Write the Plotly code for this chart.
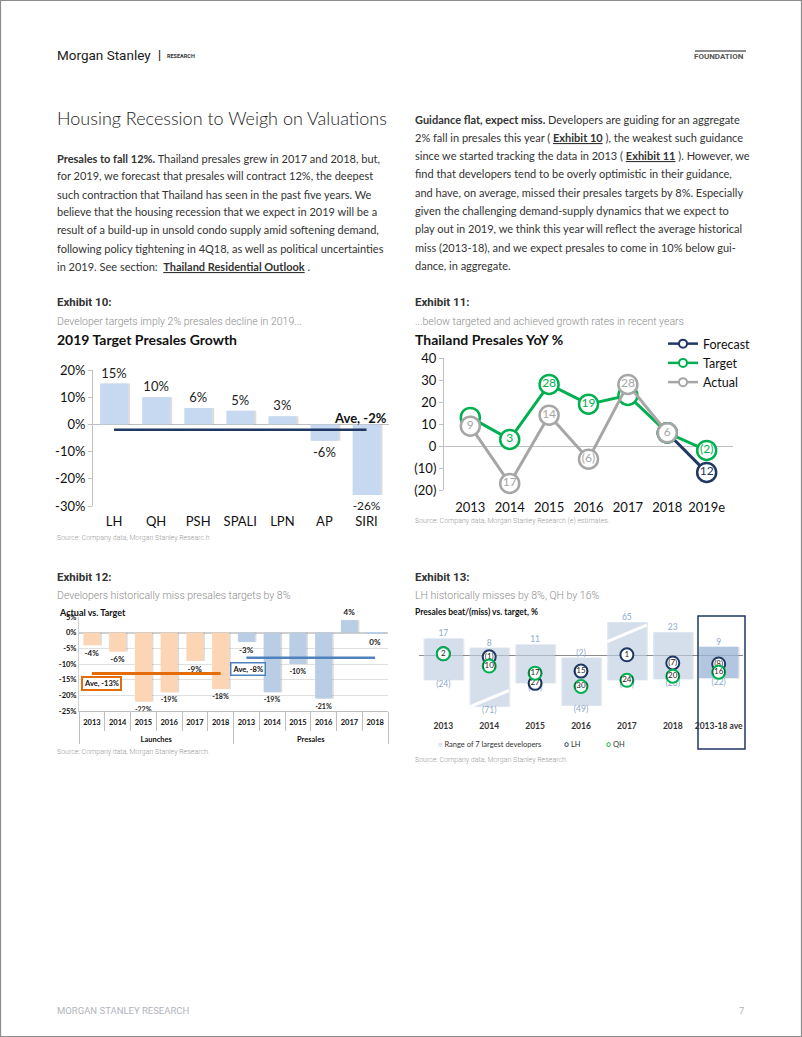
import plotly.graph_objects as go
import numpy as np

# ------------------------------------------------------------------ data
ex10_devs = ["LH", "QH", "PSH", "SPALI", "LPN", "AP", "SIRI"]
ex10_growth = [15, 10, 6, 5, 3, -6, -26]
ex10_avg = -2
ex10_yticks = [20, 10, 0, -10, -20, -30]

ex11_years = ["2013", "2014", "2015", "2016", "2017", "2018", "2019e"]
ex11_forecast = [None, None, None, None, None, 6, -12]
ex11_forecast_lbl = ["", "", "", "", "", "", "12"]
ex11_target = [13, 3, 28, 19, 23, 6, -2]
ex11_target_lbl = ["", "3", "28", "19", "", "", "(2)"]
ex11_actual = [9, -17, 14, -6, 28, 6, None]
ex11_actual_lbl = ["9", "17", "14", "(6)", "28", "6", ""]
ex11_yticks = [40, 30, 20, 10, 0, -10, -20]
ex11_yticktext = ["40", "30", "20", "10", "0", "(10)", "(20)"]

ex12_groups = ["Launches", "Presales"]
ex12_years = ["2013", "2014", "2015", "2016", "2017", "2018"]
ex12_launches = [-4, -6, -22, -19, -9, -18]
ex12_presales = [-3, -19, -10, -21, 4, -0.4]
ex12_launch_avg = -13
ex12_presale_avg = -8
ex12_yticks = [5, 0, -5, -10, -15, -20, -25]

ex13_cats = ["2013", "2014", "2015", "2016", "2017", "2018", "2013-18 ave"]
ex13_max = [17, 8, 11, -2, 65, 23, 9]
ex13_min = [-24, -71, -27, -49, -24, -23, -22]
ex13_lh = [2, -1, -27, -15, 1, -7, -8]
ex13_qh = [2, -10, -17, -30, -24, -20, -16]
ex13_break = (-50, 33)   # axis break limits of the range boxes

left_lines = [
    "<b>Presales to fall 12%.</b> Thailand presales grew in 2017 and 2018, but,",
    "for 2019, we forecast that presales will contract 12%, the deepest",
    "such contraction that Thailand has seen in the past five years. We",
    "believe that the housing recession that we expect in 2019 will be a",
    "result of a build-up in unsold condo supply amid softening demand,",
    "following policy tightening in 4Q18, as well as political uncertainties",
    "in 2019. See section:  <b><span style='text-decoration:underline'>Thailand Residential Outlook</span></b> .",
]
right_lines = [
    "<b>Guidance flat, expect miss.</b> Developers are guiding for an aggregate",
    "2% fall in presales this year ( <b><span style='text-decoration:underline'>Exhibit 10</span></b> ), the weakest such guidance",
    "since we started tracking the data in 2013 ( <b><span style='text-decoration:underline'>Exhibit 11</span></b> ). However, we",
    "find that developers tend to be overly optimistic in their guidance,",
    "and have, on average, missed their presales targets by 8%. Especially",
    "given the challenging demand-supply dynamics that we expect to",
    "play out in 2019, we think this year will reflect the average historical",
    "miss (2013-18), and we expect presales to come in 10% below gui-",
    "dance, in aggregate.",
]

# ------------------------------------------------------------------ helpers
W, H = 802, 1037
def X(px): return px / W
def Y(py): return 1 - py / H

NAVY = "#1f3864"
GREEN = "#00b050"
GREY = "#a6a6a6"
ann = []
def T(text, px, py, size=11, color="#333333", family="Lato", weight=None,
      xanchor="left", yanchor="middle", **kw):
    f = dict(size=size, color=color, family=family)
    if weight is not None:
        f["weight"] = weight
    d = dict(text=text, x=X(px), y=Y(py), xref="paper", yref="paper",
             showarrow=False, xanchor=xanchor, yanchor=yanchor, font=f)
    d.update(kw)
    ann.append(d)

def paren(v):
    return str(v) if v >= 0 else "(%d)" % (-v)

def pct(v):
    return "%d%%" % round(v)

def grp_label(g):
    # extra blank line puts the group label one row lower, as in the reference
    return "<br>" + g

fig = go.Figure()

# ------------------------------------------------------------------ Exhibit 10
fig.add_trace(go.Bar(x=ex10_devs, y=ex10_growth, width=0.66, offset=-0.28,
                     marker=dict(color="rgba(80,80,80,0.20)", line_width=0),
                     xaxis="x", yaxis="y", showlegend=False, hoverinfo="skip"))
fig.add_trace(go.Bar(x=ex10_devs, y=ex10_growth, width=0.66, offset=-0.33,
                     marker=dict(color="#c6d9f1", line_width=0),
                     text=[pct(v) for v in ex10_growth], textposition="outside",
                     textfont=dict(family="Lato", size=13, color="#222222"),
                     cliponaxis=False, xaxis="x", yaxis="y", showlegend=False))
fig.add_trace(go.Scatter(x=[ex10_devs[0], ex10_devs[-1]], y=[ex10_avg, ex10_avg],
                         mode="lines", line=dict(color=NAVY, width=2.5),
                         xaxis="x", yaxis="y", showlegend=False))

# ------------------------------------------------------------------ Exhibit 11
def line_trace(y, lbl, color):
    return go.Scatter(x=ex11_years, y=y, mode="lines+markers+text", text=lbl,
                      textposition="middle center",
                      textfont=dict(family="Lato", size=12, color=color),
                      line=dict(color=color, width=3),
                      marker=dict(size=19, color="white", line=dict(color=color, width=2.5)),
                      cliponaxis=False, xaxis="x2", yaxis="y2", showlegend=False)
fig.add_trace(line_trace(ex11_forecast, ex11_forecast_lbl, NAVY))
fig.add_trace(line_trace(ex11_target, ex11_target_lbl, GREEN))
fig.add_trace(line_trace(ex11_actual, ex11_actual_lbl, GREY))
for name, color in [("Forecast", NAVY), ("Target", GREEN), ("Actual", GREY)]:
    fig.add_trace(go.Scatter(x=[None], y=[None], mode="lines+markers", name=name,
                             line=dict(color=color, width=2.5),
                             marker=dict(size=8, color="white", line=dict(color=color, width=2)),
                             xaxis="x2", yaxis="y2", showlegend=True, legend="legend"))

# ------------------------------------------------------------------ Exhibit 12
ORANGE_BAR = "#fcd5b5"
BLUE_BAR = "#b9cde5"
for grp, vals, col in [(ex12_groups[0], ex12_launches, ORANGE_BAR),
                       (ex12_groups[1], ex12_presales, BLUE_BAR)]:
    xx = [[grp_label(grp)] * len(ex12_years), ex12_years]
    fig.add_trace(go.Bar(x=xx, y=vals, width=0.66, offset=-0.27,
                         marker=dict(color="rgba(80,80,80,0.20)", line_width=0),
                         xaxis="x3", yaxis="y3", showlegend=False, hoverinfo="skip"))
    fig.add_trace(go.Bar(x=xx, y=vals, width=0.66, offset=-0.33,
                         marker=dict(color=col, line_width=0),
                         text=[pct(v) for v in vals], textposition="outside",
                         textfont=dict(family="Lato", size=8, color="#222222", weight="bold"),
                         cliponaxis=False, xaxis="x3", yaxis="y3", showlegend=False))
for grp, avg, col, lw in [(ex12_groups[0], ex12_launch_avg, "#e46c0a", 3),
                          (ex12_groups[1], ex12_presale_avg, "#4f81bd", 2.5)]:
    fig.add_trace(go.Scatter(x=[[grp_label(grp)] * 2, [ex12_years[0], ex12_years[-1]]],
                             y=[avg, avg], mode="lines", line=dict(color=col, width=lw),
                             xaxis="x3", yaxis="y3", showlegend=False))

# ------------------------------------------------------------------ Exhibit 13
lo = np.clip(ex13_min, *ex13_break)
hi = np.clip(ex13_max, *ex13_break)
box_cols = ["rgba(200,216,236,0.62)"] * 6 + ["rgba(160,186,220,0.75)"]
fig.add_trace(go.Bar(x=ex13_cats, y=hi - lo, base=lo, width=0.86, offset=-0.40,
                     marker=dict(color="rgba(90,90,90,0.13)", line_width=0),
                     xaxis="x4", yaxis="y4", showlegend=False, hoverinfo="skip"))
fig.add_trace(go.Bar(x=ex13_cats, y=hi - lo, base=lo, width=0.86, offset=-0.43,
                     marker=dict(color=box_cols, line_width=0),
                     xaxis="x4", yaxis="y4", showlegend=False))
fig.add_trace(go.Scatter(x=ex13_cats, y=hi, mode="text", text=[paren(v) for v in ex13_max],
                         textposition="top center",
                         textfont=dict(family="Lato", size=8.5, color="#8eaad0"),
                         cliponaxis=False, xaxis="x4", yaxis="y4", showlegend=False))
fig.add_trace(go.Scatter(x=ex13_cats, y=lo, mode="text", text=[paren(v) for v in ex13_min],
                         textposition="bottom center",
                         textfont=dict(family="Lato", size=8.5, color="#8eaad0"),
                         cliponaxis=False, xaxis="x4", yaxis="y4", showlegend=False))
for vals, color in [(ex13_lh, NAVY), (ex13_qh, GREEN)]:
    fig.add_trace(go.Scatter(x=ex13_cats, y=vals, mode="markers+text",
                             text=[paren(v) for v in vals], textposition="middle center",
                             textfont=dict(family="Lato", size=8, color="#222222"),
                             marker=dict(size=13, color="white", line=dict(color=color, width=2)),
                             cliponaxis=False, xaxis="x4", yaxis="y4", showlegend=False))

# ------------------------------------------------------------------ shapes
shapes = []
shapes.append(dict(type="rect", xref="paper", yref="paper", x0=X(0.5), x1=X(801.5),
                   y0=Y(1036.5), y1=Y(0.5), line=dict(color="#8c8c8c", width=1.2)))
shapes.append(dict(type="line", xref="paper", yref="paper", x0=X(695), x1=X(746),
                   y0=Y(51), y1=Y(51), line=dict(color="#666666", width=1.5)))
# break marks on range boxes
i14 = ex13_cats.index("2014")
i17 = ex13_cats.index("2017")
shapes.append(dict(type="line", xref="x4", yref="y4", x0=i14 - 0.43, x1=i14 + 0.43,
                   y0=ex13_break[0], y1=ex13_break[0] + 16, line=dict(color="white", width=3)))
shapes.append(dict(type="line", xref="x4", yref="y4", x0=i17 - 0.43, x1=i17 + 0.43,
                   y0=ex13_break[1] - 19, y1=ex13_break[1] - 3, line=dict(color="white", width=3)))
shapes.append(dict(type="rect", xref="paper", yref="paper", x0=X(698), x1=X(745),
                   y0=Y(749), y1=Y(616), line=dict(color=NAVY, width=1.5)))

# ------------------------------------------------------------------ text
T("Morgan Stanley", 55, 55, size=13.5, color="#1a1a1a", family="Roboto")
T("|", 156, 55, size=12, color="#1a1a1a", family="Roboto", weight="bold")
T("RESEARCH", 165, 56, size=5.5, color="#333333", family="Roboto", weight="bold")
T("FOUNDATION", 746, 57, size=8, color="#555555", family="Roboto", weight="bold",
  xanchor="right")

T("Housing Recession to Weigh on Valuations", 55, 118, size=18, color="#222222",
  family="Lato", weight=300)
for i, line in enumerate(left_lines):
    T(line, 55, 158 + 18 * i, size=11, color="#333333", family="Lato")
for i, line in enumerate(right_lines):
    T(line, 413, 119 + 18.3 * i, size=11, color="#333333", family="Lato")

# exhibit 10
T("Exhibit 10:", 55, 302, size=11.5, color="#333333", family="Roboto", weight="bold")
T("Developer targets imply 2% presales decline in 2019...", 55, 321, size=10.5,
  color="#8c8c8c", family="Roboto", weight=300)
T("2019 Target Presales Growth", 55, 339, size=14, color="#111111", family="Lato",
  weight="bold")
ann.append(dict(text="Ave, %d%%" % ex10_avg, x=ex10_devs[-1], y=ex10_avg, xref="x", yref="y",
                showarrow=False, xanchor="center", yanchor="bottom", xshift=-6, yshift=2,
                font=dict(family="Lato", size=13, color="#111111", weight="bold")))
T("Source: Company data, Morgan Stanley Researc.h", 55, 538, size=7, color="#999999",
  family="Roboto", weight=300)

# exhibit 11
T("Exhibit 11:", 413, 302, size=11.5, color="#333333", family="Roboto", weight="bold")
T("...below targeted and achieved growth rates in recent years", 413, 321, size=10.5,
  color="#8c8c8c", family="Roboto", weight=300)
T("Thailand Presales YoY %", 413, 340, size=14, color="#111111", family="Lato",
  weight="bold")
T("Source: Company data, Morgan Stanley Research (e) estimates.", 413, 521, size=7,
  color="#999999", family="Roboto", weight=300)

# exhibit 12
T("Exhibit 12:", 55, 577, size=11.5, color="#333333", family="Roboto", weight="bold")
T("Developers historically miss presales targets by 8%", 55, 595, size=10.5,
  color="#8c8c8c", family="Roboto", weight=300)
T("Actual vs. Target", 57, 612, size=9, color="#111111", family="Lato", weight="bold")
T("Ave, %d%%" % ex12_launch_avg, 101, 683, size=7.5, color="#111111", family="Lato",
  weight="bold", xanchor="center", bordercolor="#e46c0a", borderwidth=2, borderpad=1,
  bgcolor="white")
T("Ave, %d%%" % ex12_presale_avg, 248, 669, size=7.5, color="#111111", family="Lato",
  weight="bold", xanchor="center", bordercolor="#4f81bd", borderwidth=1.5, borderpad=1,
  bgcolor="white")
T("Source: Company data, Morgan Stanley Research.", 55, 752, size=7, color="#999999",
  family="Roboto", weight=300)

# exhibit 13
T("Exhibit 13:", 413, 577, size=11.5, color="#333333", family="Roboto", weight="bold")
T("LH historically misses by 8%, QH by 16%", 413, 595, size=10.5,
  color="#8c8c8c", family="Roboto", weight=300)
T("Presales beat/(miss) vs. target, %", 413, 612, size=8.5, color="#111111",
  family="Lato", weight="bold")
T("<span style='color:#dce6f2'>■</span> Range of 7 largest developers", 436, 744,
  size=7.5, color="#333333", family="Lato")
T("<span style='color:%s'><b>○</b></span> LH" % NAVY, 562, 744, size=7.5,
  color="#333333", family="Lato")
T("<span style='color:%s'><b>○</b></span> QH" % GREEN, 604, 744, size=7.5,
  color="#333333", family="Lato")
T("Source: Company data, Morgan Stanley Research.", 413, 760, size=7, color="#999999",
  family="Roboto", weight=300)

# footer
T("MORGAN STANLEY RESEARCH", 55, 1010, size=9.5, color="#b0b5bd", family="Roboto")
T("7", 746, 1010, size=9.5, color="#b0b5bd", family="Roboto", xanchor="right")

# ------------------------------------------------------------------ layout
tick13 = dict(family="Lato", size=13, color="#111111")
fig.update_layout(
    width=W, height=H, margin=dict(l=0, r=0, t=0, b=0, pad=0, autoexpand=False),
    paper_bgcolor="white", plot_bgcolor="rgba(0,0,0,0)",
    barmode="overlay", showlegend=True,
    legend=dict(x=X(663), y=Y(329), xanchor="left", yanchor="top",
                bgcolor="rgba(0,0,0,0)", font=dict(family="Lato", size=12.5, color="#111111"),
                itemwidth=30, tracegroupgap=0),
    # exhibit 10
    xaxis=dict(domain=[X(93), X(389)], anchor="y", type="category",
               categoryorder="array", categoryarray=ex10_devs, automargin=False,
               showline=False, showgrid=False, ticks="", tickfont=tick13, tickangle=0,
               ticklabelstandoff=6, fixedrange=True),
    yaxis=dict(domain=[Y(506), Y(370)], anchor="x", range=[-30, 20], automargin=False,
               tickvals=ex10_yticks, ticktext=[pct(v) for v in ex10_yticks],
               showgrid=False, showline=True, linecolor="#bfbfbf", ticks="outside",
               ticklen=4, tickcolor="#bfbfbf", zeroline=True, zerolinecolor="#bfbfbf",
               zerolinewidth=1, tickfont=tick13, fixedrange=True),
    # exhibit 11
    xaxis2=dict(domain=[X(444), X(733)], anchor="y2", type="category",
                categoryorder="array", categoryarray=ex11_years, automargin=False,
                showline=False, showgrid=False, ticks="", tickfont=tick13, tickangle=0,
                ticklabelstandoff=8, fixedrange=True),
    yaxis2=dict(domain=[Y(490), Y(358)], anchor="x2", range=[-20, 40], automargin=False,
                tickvals=ex11_yticks, ticktext=ex11_yticktext,
                showgrid=False, showline=True, linecolor="#bfbfbf", ticks="outside",
                ticklen=4, tickcolor="#bfbfbf", zeroline=True, zerolinecolor="#bfbfbf",
                zerolinewidth=1, tickfont=tick13, fixedrange=True),
    # exhibit 12
    xaxis3=dict(domain=[X(79), X(388)], anchor="y3", type="multicategory",
                automargin=False, tickangle=0,
                showline=True, linecolor="#bfbfbf", showgrid=False,
                ticks="outside", tickson="boundaries", ticklen=19, tickcolor="#bfbfbf",
                showdividers=True, dividercolor="#bfbfbf", dividerwidth=1,
                ticklabelstandoff=4,
                tickfont=dict(family="Lato", size=7.5, color="#111111", weight="bold"),
                fixedrange=True),
    yaxis3=dict(domain=[Y(711), Y(617)], anchor="x3", range=[-25, 5], automargin=False,
                tickvals=ex12_yticks, ticktext=[pct(v) for v in ex12_yticks],
                showgrid=True, gridcolor="#e0e0e0", showline=True,
                linecolor="#d0d0d0", zeroline=True, zerolinecolor="#d0d0d0",
                tickfont=dict(family="Lato", size=7.5, color="#111111", weight="bold"),
                fixedrange=True),
    # exhibit 13
    xaxis4=dict(domain=[X(419), X(743)], anchor="y4", type="category",
                categoryorder="array", categoryarray=ex13_cats, automargin=False,
                showline=False, showgrid=False, ticks="", tickangle=0,
                tickfont=dict(family="Lato", size=8.5, color="#333333", weight="bold"),
                ticklabelstandoff=4, fixedrange=True),
    yaxis4=dict(domain=[Y(715), Y(615)], anchor="x4", range=[-58, 40], automargin=False,
                showticklabels=False, showgrid=False, showline=False, ticks="",
                zeroline=True, zerolinecolor="#8c8c8c", zerolinewidth=1, fixedrange=True),
    shapes=shapes, annotations=ann,
)

fig.write_html("out.html", config={"displayModeBar": False},
               post_script="document.body.style.margin='0';document.body.style.padding='0';")
